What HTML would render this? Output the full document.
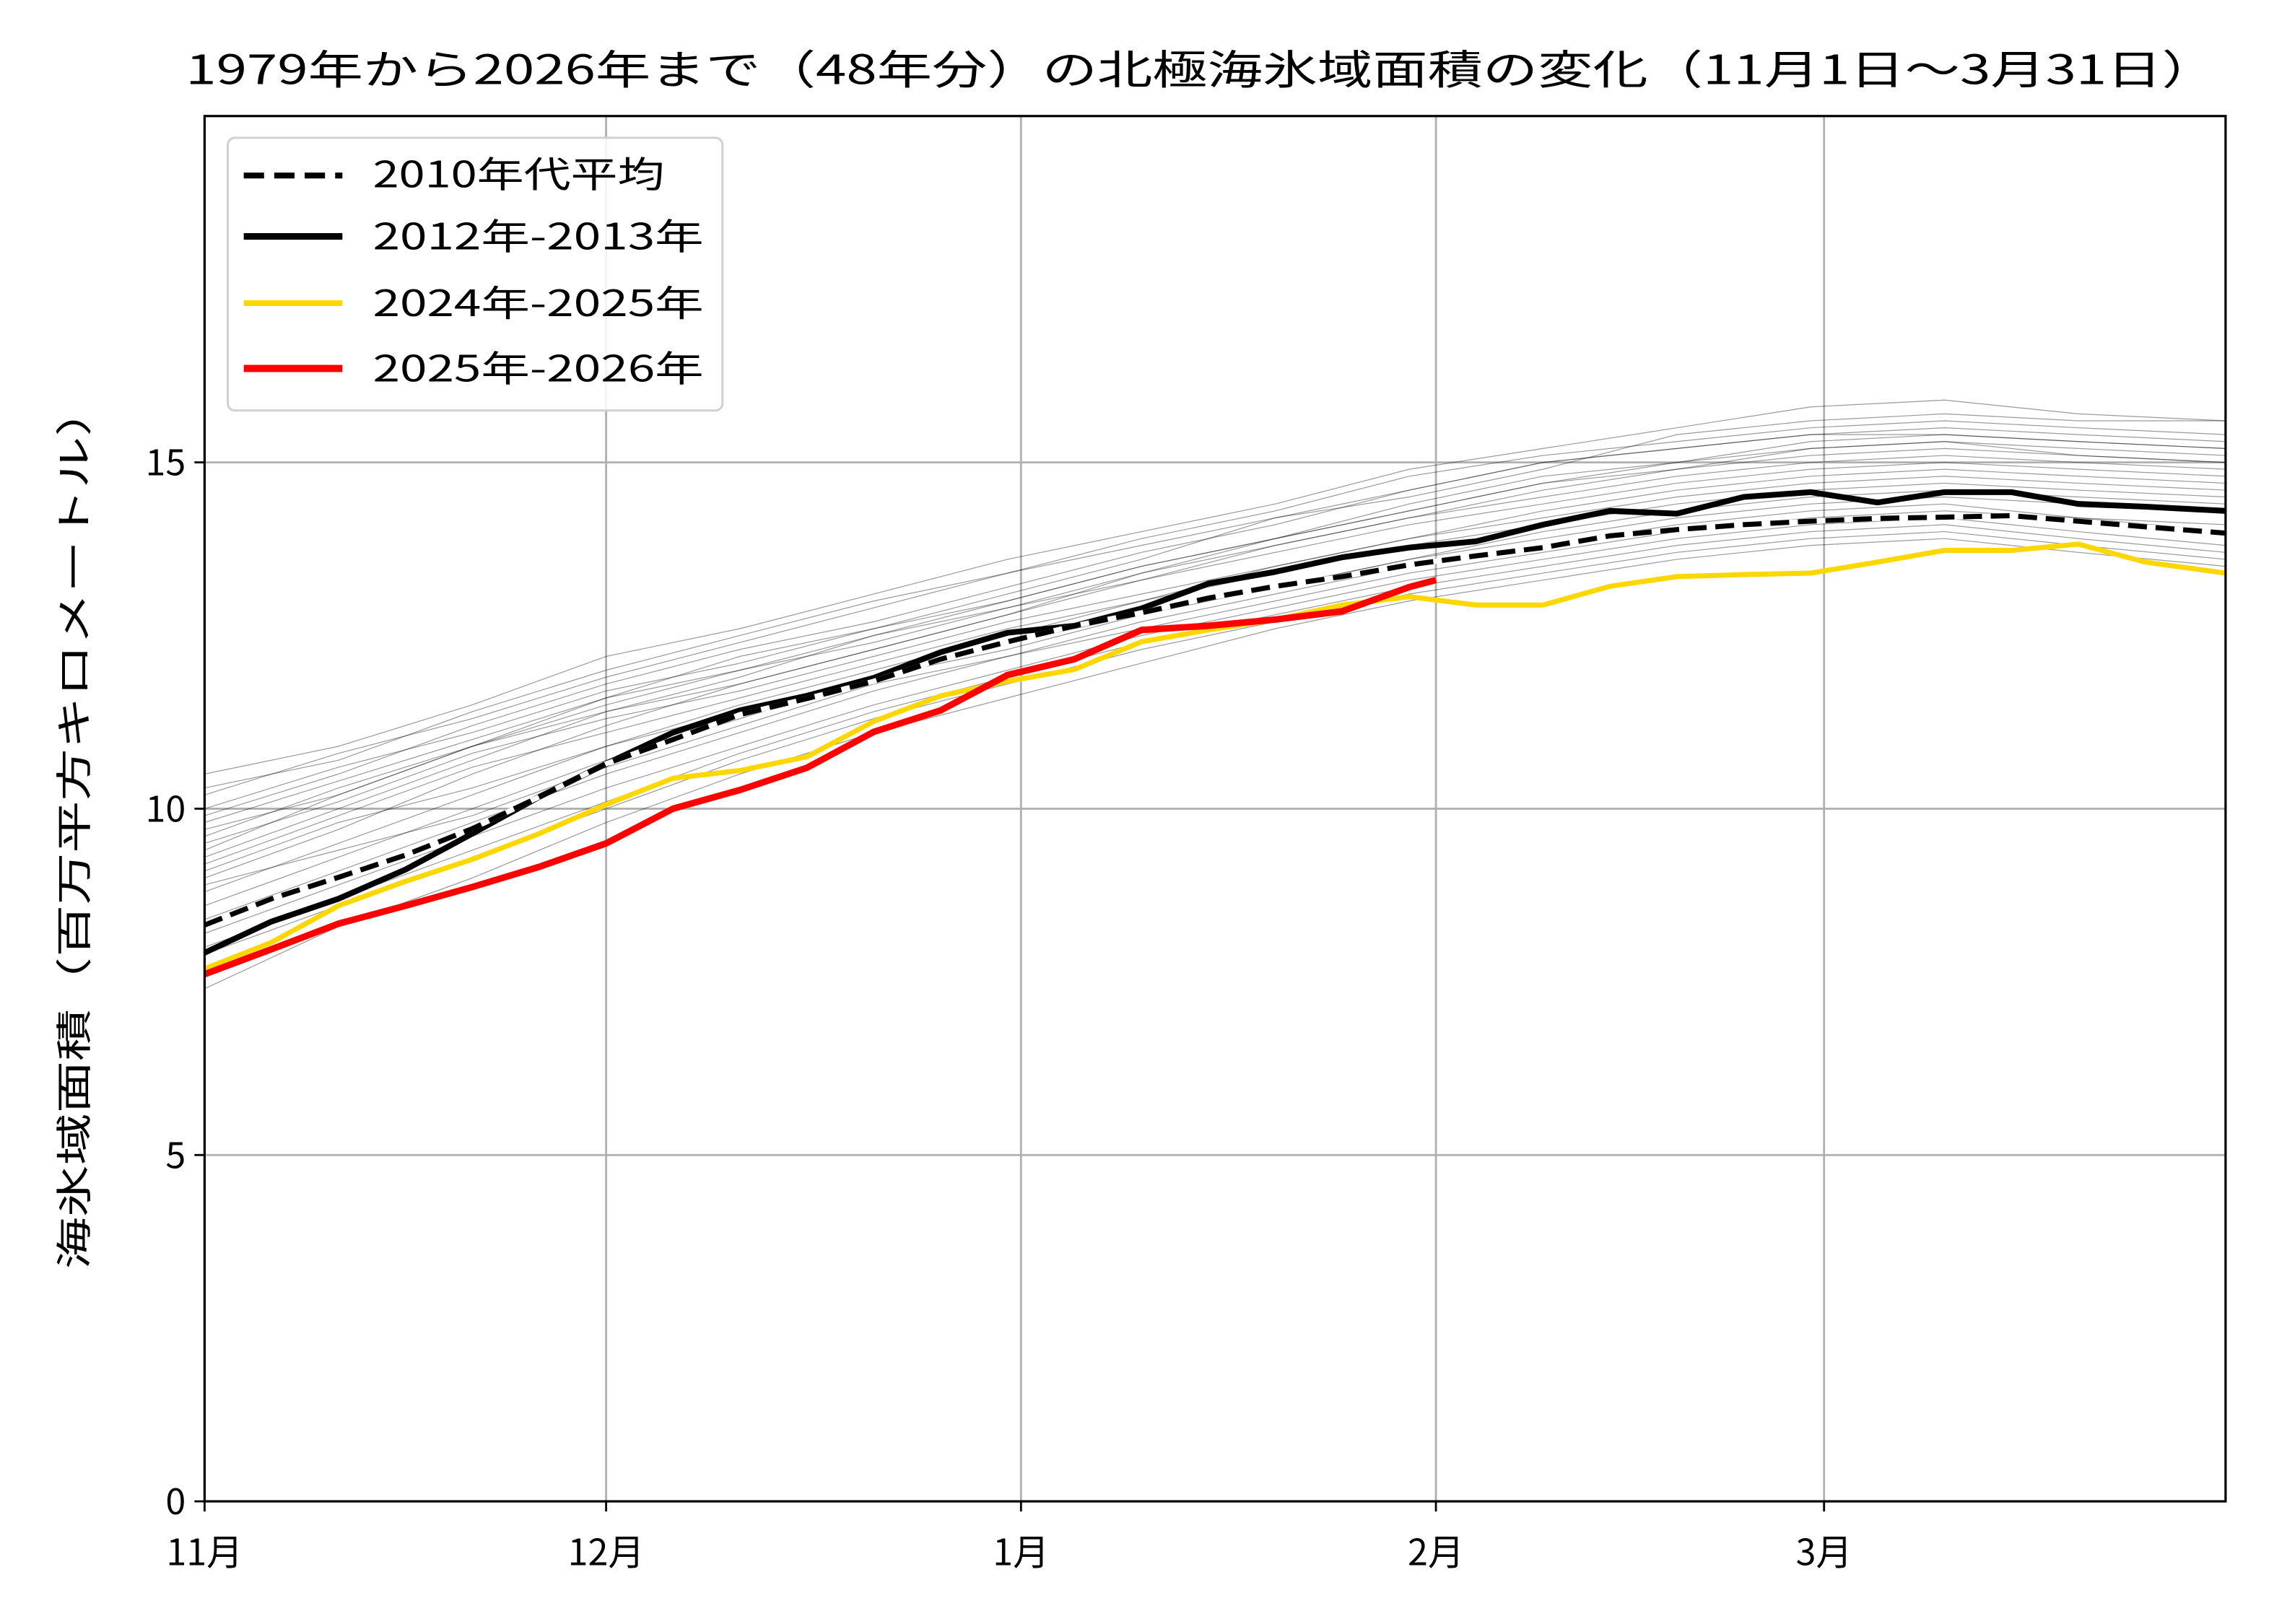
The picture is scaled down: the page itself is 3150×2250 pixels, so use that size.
<!DOCTYPE html>
<html><head><meta charset="utf-8">
<style>html,body{margin:0;padding:0;background:#fff}svg{display:block}text{font-family:"Noto Sans CJK JP","Liberation Sans",sans-serif;fill:#000}</style>
</head><body>
<svg id="chart" width="3150" height="2250" viewBox="0 0 1560 1114.3" xmlns="http://www.w3.org/2000/svg">
<rect width="1560" height="1114.3" fill="#fff"/>
<g transform="scale(0.9953)">
<text x="128" y="58" font-size="28" textLength="1400" lengthAdjust="spacingAndGlyphs">1979年から2026年まで（48年分）の北極海氷域面積の変化（11月1日～3月31日）</text>
<g id="grid"></g>
<g id="gray"></g>
<g id="main"></g>
<rect x="141" y="80" width="1393" height="955" fill="none" stroke="#000" stroke-width="1.6"/>
<g id="ticks"></g>
<text transform="translate(60,570) rotate(-90)" font-size="25" text-anchor="middle" textLength="610" lengthAdjust="spacingAndGlyphs">海氷域面積（百万平方キロメートル）</text>
<g>
<rect x="157" y="95" width="341" height="188" rx="5" fill="#fff" fill-opacity="0.85" stroke="#d0d0d0" stroke-width="1.5"/>
<line x1="168" y1="121" x2="236" y2="121" stroke="#000" stroke-width="4" stroke-dasharray="14,7"/>
<text x="257" y="129" font-size="25" textLength="201" lengthAdjust="spacingAndGlyphs">2010年代平均</text>
<line x1="168" y1="163" x2="236" y2="163" stroke="#000" stroke-width="4.5"/>
<text x="257" y="172" font-size="25" textLength="228" lengthAdjust="spacingAndGlyphs">2012年-2013年</text>
<line x1="168" y1="209" x2="236" y2="209" stroke="#FFD700" stroke-width="4"/>
<text x="257" y="218" font-size="25" textLength="228" lengthAdjust="spacingAndGlyphs">2024年-2025年</text>
<line x1="168" y1="254" x2="236" y2="254" stroke="#f00" stroke-width="5"/>
<text x="257" y="263" font-size="25" textLength="228" lengthAdjust="spacingAndGlyphs">2025年-2026年</text>
</g>
</g>
</svg>
<script>
const monthLabels=["11月","12月","1月","2月","3月"];
const monthDays=[0,30,61,92,121];
const yTicks=[0,5,10,15];
const sampleDays=[0,5,10,15,20,25,30,35,40,45,50,55,60,65,70,75,80,85,90,95,100,105,110,115,120,125,130,135,140,145,151];
const avg2010s=[8.32,8.7,9.01,9.33,9.71,10.17,10.65,11.0,11.36,11.59,11.84,12.16,12.41,12.64,12.83,13.04,13.21,13.35,13.52,13.65,13.77,13.94,14.03,14.1,14.15,14.19,14.21,14.23,14.15,14.07,13.98];
const y2012=[7.92,8.37,8.7,9.12,9.64,10.17,10.65,11.1,11.42,11.63,11.89,12.26,12.54,12.64,12.89,13.25,13.42,13.63,13.77,13.86,14.1,14.3,14.26,14.5,14.57,14.42,14.57,14.57,14.4,14.36,14.3];
const y2024=[7.69,8.07,8.6,8.95,9.27,9.64,10.06,10.44,10.55,10.75,11.26,11.63,11.84,12.01,12.41,12.58,12.73,12.94,13.06,12.94,12.94,13.21,13.35,13.38,13.4,13.56,13.73,13.73,13.82,13.56,13.4];
const redDays=[0,5,10,15,20,25,30,35,40,45,50,55,60,65,70,75,80,85,90,92];
const y2025=[7.61,7.97,8.34,8.6,8.87,9.16,9.5,10.0,10.27,10.59,11.11,11.42,11.93,12.16,12.58,12.64,12.73,12.85,13.2,13.3];
const grayDays=[0,10,20,30,40,50,60,70,80,90,100,110,120,130,140,151];
const grayYears=[
[10.2,10.8,11.3,11.9,12.4,12.9,13.4,13.9,14.3,14.8,15.1,15.3,15.5,15.6,15.5,15.4],
[9.9,10.5,11.2,11.8,12.3,12.7,13.2,13.7,14.1,14.6,15.0,15.2,15.4,15.5,15.4,15.3],
[9.6,10.3,10.9,11.6,12.2,12.6,13.1,13.6,14.2,14.5,14.9,15.4,15.6,15.7,15.6,15.6],
[10.5,10.9,11.5,12.2,12.6,13.1,13.6,14.0,14.4,14.9,15.2,15.5,15.8,15.9,15.7,15.6],
[9.3,10.0,10.7,11.4,11.9,12.5,13.0,13.5,13.9,14.3,14.7,14.9,15.1,15.2,15.1,15.0],
[9.8,10.4,11.0,11.6,12.0,12.5,12.9,13.4,13.8,14.2,14.6,14.9,15.2,15.3,15.1,15.0],
[9.0,9.7,10.5,11.2,11.8,12.3,12.8,13.3,13.8,14.2,14.5,14.8,15.0,15.1,15.0,14.9],
[10.0,10.6,11.1,11.7,12.1,12.6,13.0,13.5,13.9,14.4,14.8,15.0,15.2,15.3,15.2,15.1],
[9.5,10.1,10.8,11.3,11.7,12.2,12.7,13.1,13.5,13.9,14.3,14.6,14.8,14.9,14.8,14.7],
[8.8,9.5,10.2,10.9,11.5,12.0,12.5,13.0,13.5,13.9,14.2,14.5,14.7,14.8,14.7,14.6],
[9.7,10.2,10.9,11.5,12.0,12.4,12.9,13.3,13.7,14.1,14.4,14.7,14.9,15.0,14.9,14.8],
[9.2,9.9,10.6,11.1,11.6,12.1,12.6,13.0,13.4,13.8,14.1,14.4,14.6,14.7,14.6,14.5],
[8.6,9.3,10.0,10.7,11.3,11.9,12.3,12.8,13.2,13.6,13.9,14.2,14.4,14.5,14.4,14.3],
[9.1,9.8,10.3,10.9,11.4,11.9,12.4,12.8,13.2,13.6,14.0,14.3,14.5,14.6,14.5,14.4],
[8.4,9.1,9.8,10.5,11.1,11.7,12.2,12.6,13.0,13.4,13.7,14.0,14.2,14.3,14.2,14.0],
[8.9,9.4,9.9,10.6,11.2,11.8,12.2,12.7,13.1,13.5,13.8,14.1,14.3,14.4,14.2,14.1],
[8.2,8.9,9.6,10.3,10.9,11.5,12.0,12.5,12.9,13.3,13.6,13.9,14.1,14.2,14.0,13.8],
[7.9,8.6,9.3,10.0,10.7,11.3,11.8,12.3,12.7,13.1,13.4,13.7,13.9,14.0,13.8,13.6],
[7.4,8.3,9.0,9.8,10.5,11.1,11.6,12.1,12.6,13.0,13.3,13.6,13.8,13.9,13.7,13.5],
[8.0,8.7,9.4,10.1,10.8,11.4,11.9,12.4,12.8,13.2,13.5,13.8,14.0,14.1,13.9,13.7],
[9.4,10.2,10.9,11.4,11.8,12.3,12.8,13.4,13.9,14.3,14.7,15.0,15.3,15.4,15.3,15.2],
[10.3,10.7,11.4,12.0,12.5,13.0,13.4,13.8,14.2,14.6,15.0,15.2,15.4,15.4,15.3,15.2]
];
const NS="http://www.w3.org/2000/svg";
const X0=141,X1=1534,Y0=1035,Y1=80,XMAX=151,YMAX=20;
function sx(d){return X0+(X1-X0)*d/XMAX;}
function sy(v){return Y0-(Y0-Y1)*v/YMAX;}
function mk(tag,attrs,parent){const e=document.createElementNS(NS,tag);for(const k in attrs)e.setAttribute(k,attrs[k]);parent.appendChild(e);return e;}
const grid=document.getElementById('grid'),ticks=document.getElementById('ticks');
monthDays.forEach((d,i)=>{
  const g=mk('line',{x1:sx(d),x2:sx(d),y1:Y1,y2:Y0,stroke:'#b0b0b0','stroke-width':1.4},grid);
  
  
  mk('line',{x1:sx(d),x2:sx(d),y1:Y0,y2:Y0+7,stroke:'#000','stroke-width':1.4},ticks);
  const t=mk('text',{x:sx(d),y:Y0+44,'font-size':25,'text-anchor':'middle'},ticks);
  t.textContent=monthLabels[i];
  
  
});
yTicks.forEach(v=>{
  const g=mk('line',{x1:X0,x2:X1,y1:sy(v),y2:sy(v),stroke:'#b0b0b0','stroke-width':1.4},grid);
  
  
  mk('line',{x1:X0-7,x2:X0,y1:sy(v),y2:sy(v),stroke:'#000','stroke-width':1.4},ticks);
  const t=mk('text',{x:X0-13,y:sy(v)+9,'font-size':25,'text-anchor':'end'},ticks);
  t.textContent=v;
  
  
});
function pts(days,vals){return vals.map((v,i)=>sx(days[i]).toFixed(1)+','+sy(v).toFixed(1)).join(' ');}
const gray=document.getElementById('gray');
grayYears.forEach(vals=>{
  const p=mk('polyline',{points:pts(grayDays,vals),fill:'none',stroke:'#000','stroke-opacity':0.4,'stroke-width':0.6},gray);
  
  
});
const main=document.getElementById('main');
let p;
p=mk('polyline',{points:pts(sampleDays,y2024),fill:'none',stroke:'#FFD700','stroke-width':3.5,'stroke-linejoin':'round'},main);


p=mk('polyline',{points:pts(sampleDays,y2012),fill:'none',stroke:'#000','stroke-width':4,'stroke-linejoin':'round'},main);


p=mk('polyline',{points:pts(sampleDays,avg2010s),fill:'none',stroke:'#fff','stroke-width':3.5},main);


p=mk('polyline',{points:pts(sampleDays,avg2010s),fill:'none',stroke:'#000','stroke-width':3.5,'stroke-dasharray':'13,6'},main);


p=mk('polyline',{points:pts(redDays,y2025),fill:'none',stroke:'#f00','stroke-width':4.5,'stroke-linejoin':'round'},main);


</script>
</body></html>
